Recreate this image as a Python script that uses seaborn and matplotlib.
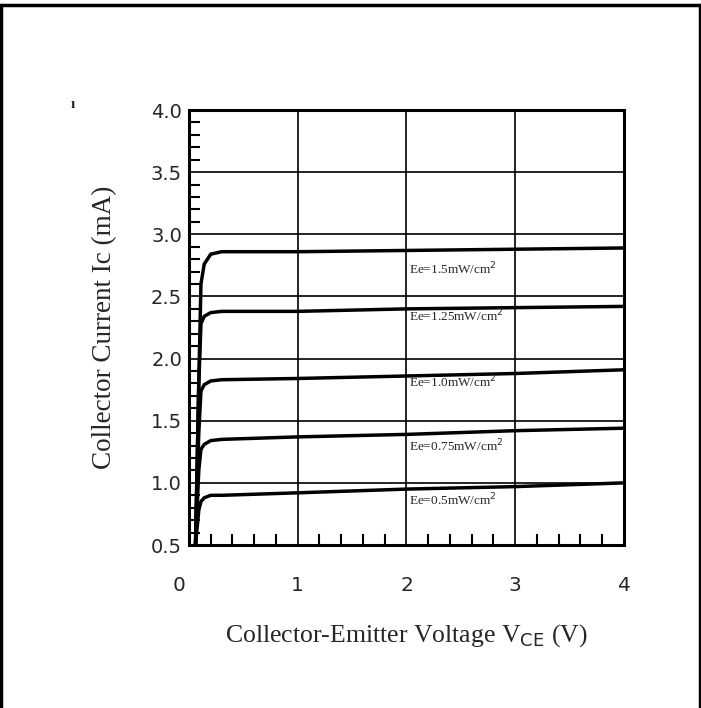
import numpy as np
import pandas as pd
import matplotlib.pyplot as plt
import matplotlib.transforms as mtransforms
import seaborn as sns
from matplotlib.ticker import MultipleLocator

# irradiance levels and curve points
levels = ['Ee=1.5mW/cm$^2$', 'Ee=1.25mW/cm$^2$', 'Ee=1.0mW/cm$^2$',
          'Ee=0.75mW/cm$^2$', 'Ee=0.5mW/cm$^2$']
vce = [0.06, 0.09, 0.11, 0.14, 0.2, 0.3, 1.0, 2.0, 3.0, 4.0]
ic_15 = [0.5, 1.8, 2.6, 2.76, 2.84, 2.86, 2.86, 2.87, 2.88, 2.89]
ic_125 = [0.5, 1.8, 2.28, 2.34, 2.37, 2.38, 2.38, 2.40, 2.41, 2.42]
ic_10 = [0.5, 1.4, 1.74, 1.79, 1.82, 1.83, 1.84, 1.86, 1.88, 1.91]
ic_075 = [0.5, 1.1, 1.27, 1.31, 1.34, 1.35, 1.37, 1.39, 1.42, 1.44]
ic_05 = [0.5, 0.78, 0.85, 0.88, 0.90, 0.90, 0.92, 0.95, 0.97, 1.00]
label_y = [2.72, 2.34, 1.81, 1.30, 0.86]
xticks = [0, 1, 2, 3, 4]
yticks = [0.5, 1.0, 1.5, 2.0, 2.5, 3.0, 3.5, 4.0]

df = pd.concat([pd.DataFrame({'vce': vce, 'ic': ic, 'level': lv})
                for lv, ic in zip(levels, [ic_15, ic_125, ic_10, ic_075, ic_05])])

sns.set_style('white')
plt.rcParams['font.family'] = ['Liberation Serif', 'DejaVu Serif']

fig = plt.figure(figsize=(7.01, 7.08), dpi=100)
ax = fig.add_axes([0.2696, 0.2302, 0.6205, 0.6144])

sns.lineplot(data=df, x='vce', y='ic', hue='level', sort=False,
             palette={lv: 'black' for lv in levels}, linewidth=2.5,
             legend=False, ax=ax)

for lv, y in zip(levels, label_y):
    ax.text(2.02, y, lv, fontsize=9.5, va='center', ha='left')

ax.set_xlim(0, 4)
ax.set_ylim(0.5, 4.0)
ax.xaxis.set_minor_locator(MultipleLocator(0.2))
ax.yaxis.set_minor_locator(MultipleLocator(0.1))
ax.set_xticks(xticks)
ax.set_xticklabels([str(v) for v in xticks], family='DejaVu Sans', fontsize=14.5)
ax.set_yticks(yticks)
ax.set_yticklabels([f'{v:.1f}' for v in yticks], family='DejaVu Sans', fontsize=14)
ax.grid(True, which='major', color='black', linewidth=1.2)
ax.tick_params(which='both', direction='in', color='black', width=1.5,
               bottom=True, left=True, top=False, right=False)
ax.tick_params(which='major', length=0)
ax.tick_params(which='minor', length=8)
ax.tick_params(axis='x', pad=22)
ax.tick_params(axis='y', pad=5)
# the "0" sits a little left of the axis in the original
lab0 = ax.get_xticklabels()[0]
lab0.set_transform(lab0.get_transform() +
                   mtransforms.ScaledTranslation(-10 / 100, 0, fig.dpi_scale_trans))
for s in ax.spines.values():
    s.set_color('black')
    s.set_linewidth(2.2)

ax.set_xlabel(r'Collector-Emitter Voltage V$_{\rm CE}$ (V)', fontsize=18.5, labelpad=20)
ax.set_ylabel('Collector Current Ic (mA)', fontsize=19.5, labelpad=24)

# outer frame of the datasheet figure
fig.add_artist(plt.Line2D([0.002, 0.002], [0, 0.993], color='black', lw=2.5))
fig.add_artist(plt.Line2D([0.998, 0.998], [0, 0.993], color='black', lw=2.5))
fig.add_artist(plt.Line2D([0, 1], [0.993, 0.993], color='black', lw=2.5))
fig.text(0.101, 0.848, 'ı', fontsize=11, fontweight='bold')

fig.savefig('out.png', dpi=100)
